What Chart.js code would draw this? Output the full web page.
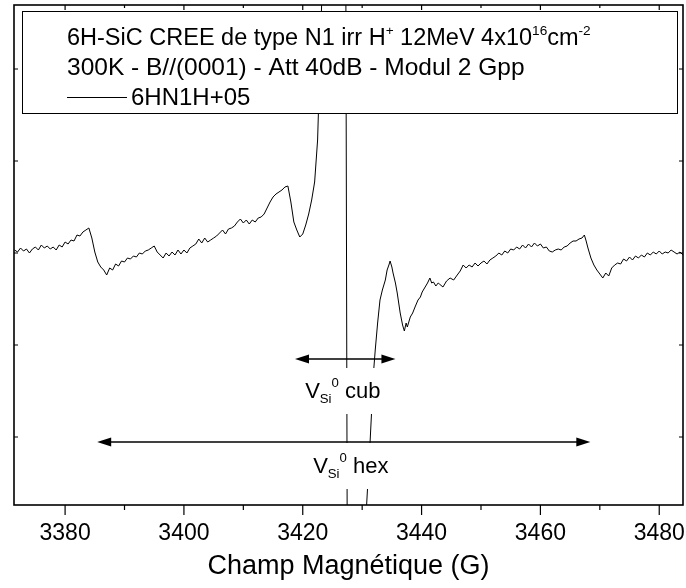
<!DOCTYPE html>
<html>
<head>
<meta charset="utf-8">
<script src="https://cdn.jsdelivr.net/npm/chart.js@4"></script>
<style>
  body { margin: 0; background: #fff; }
  #wrap { width: 686px; height: 588px; }
</style>
</head>
<body>
<div id="wrap"><canvas id="canvas_epr" width="686" height="588"></canvas></div>
<script>
// EPR spectrum 6HN1H+05 (field in G, signal in a.u.)
var field = [
  3371.5, 3372, 3372.5, 3373, 3373.5, 3374, 3374.5, 3375, 3375.5, 3376, 3376.5, 3377, 3377.5, 3378, 3378.5, 3379, 3379.5,
  3380, 3380.5, 3381, 3381.5, 3382, 3382.5, 3383, 3383.5, 3384, 3384.5, 3385, 3385.5, 3386, 3386.5, 3387, 3387.5,
  3388, 3388.5, 3389, 3389.5, 3390, 3390.5, 3391, 3391.5, 3392, 3392.5, 3393, 3393.5, 3394, 3394.5, 3395, 3395.5,
  3396, 3396.5, 3397, 3397.5, 3398, 3398.5, 3399, 3399.5, 3400, 3400.5, 3401, 3401.5, 3402, 3402.5, 3403, 3403.5,
  3404, 3404.5, 3405, 3405.5, 3406, 3406.5, 3407, 3407.5, 3408, 3408.5, 3409, 3409.5, 3410, 3410.5, 3411, 3411.5,
  3412, 3412.5, 3413, 3413.5, 3414, 3414.5, 3415, 3415.5, 3416, 3416.5, 3417, 3417.5, 3418, 3418.5, 3419, 3419.5,
  3420, 3420.5, 3421, 3421.5, 3422, 3422.5, 3423, 3423.5, 3424, 3425, 3426, 3426.8, 3427.2, 3427.55,
  3428, 3428.5, 3429, 3429.5, 3430, 3430.75, 3431.35, 3431.94, 3432.2, 3432.6, 3433, 3433.4, 3433.9, 3434.2, 3434.5,
  3434.7, 3435, 3435.2, 3435.6, 3435.9, 3436.2, 3436.4, 3436.8, 3437.1, 3437.4, 3437.6, 3438.1, 3438.5, 3438.9,
  3439.4, 3439.8, 3440.1, 3440.6, 3441, 3441.4, 3441.7, 3442, 3442.4, 3442.8, 3443, 3443.6, 3444.2, 3444.8, 3445.4,
  3446, 3446.5, 3447, 3447.5, 3448, 3448.5, 3449, 3449.5, 3450, 3450.5, 3451, 3451.5, 3452, 3452.5, 3453, 3453.5,
  3454, 3454.5, 3455, 3455.5, 3456, 3456.5, 3457, 3457.5, 3458, 3458.5, 3459, 3459.5, 3460, 3460.5, 3461, 3461.5,
  3462, 3462.5, 3463, 3463.5, 3464, 3464.5, 3465, 3465.5, 3466, 3466.5, 3467, 3467.4, 3467.7, 3468, 3468.5, 3469,
  3469.5, 3470, 3470.5, 3471, 3471.5, 3472, 3472.5, 3473, 3473.5, 3474, 3474.5, 3475, 3475.5, 3476, 3476.5, 3477,
  3477.5, 3478, 3478.5, 3479, 3479.5, 3480, 3480.5, 3481, 3481.5, 3482, 3482.5, 3483, 3483.5, 3484
];
var signal = [
  3, 1, 5, 2, 4, 0, 4, 6, 3, 8, 5, 7, 4, 6, 3, 8, 6,
  11, 9, 13, 12, 18, 17, 21, 23, 25, 15, 1, -9, -14, -17, -22, -15,
  -17, -11, -13, -8, -9, -5, -6, -3, -4, 0, -1, 2, 3, 5, 7, 1,
  -2, -5, 0, -3, 1, -2, 3, -1, 3, 0, 5, 7, 9, 14, 10, 15,
  11, 13, 15, 17, 20, 23, 19, 24, 25, 27, 31, 34, 30, 33, 29, 33,
  31, 35, 36, 39, 45, 51, 56, 59, 61, 63, 66, 67, 51, 31, 23, 16,
  19, 28, 39, 53, 71, 113, 213, 313, 413, 483, 490, 460, 403, -447,
  -470, -480, -460, -400, -320, -252, -187, -117, -97, -70, -47, -37, -27, -17, -12,
  -8, -14, -20, -30, -40, -52, -60, -72, -78, -70, -74, -64, -60, -54,
  -47, -44, -39, -34, -30, -25, -30, -29, -33, -30, -31, -34, -28, -25, -27,
  -22, -18, -12, -15, -12, -14, -10, -13, -10, -8, -11, -7, -5, -3, 0, -2,
  2, 0, 4, 3, 6, 4, 8, 5, 9, 6, 10, 7, 9, 5, 6, 2,
  1, 3, 4, 3, 6, 7, 10, 12, 12, 14, 15, 18, 12, 5, -5, -12,
  -17, -21, -25, -20, -23, -15, -12, -10, -11, -6, -8, -4, -7, -3, -5, -2,
  -4, 0, -2, 1, -1, 2, -1, 1, 0, 3, 1, -1, 1, -2
];

var x_tick_values = [3380, 3400, 3420, 3440, 3460, 3480];
var x_minor_values = [3390, 3410, 3430, 3450, 3470];
var y_tick_values = [-184, -92, 0, 92, 184];

var FONT = '"Liberation Sans", Arial, sans-serif';

// legend lines, runs: s = 1 superscript
var legend_line1 = [
  { t: '6H-SiC CREE de type N1 irr H' }, { t: '+', s: 1 }, { t: ' 12MeV 4x10' },
  { t: '16', s: 1 }, { t: 'cm' }, { t: '-2', s: 1 }
];
var legend_line2 = [{ t: '300K - B//(0001) - Att 40dB - Modul 2 Gpp' }];
var legend_series = '6HN1H+05';

// arrows [from G, to G, level] and labels [start G, baseline level, kind]
var arrows = [[3418.7, 3435.6, -106], [3385.4, 3468.4, -189]];
var labels = [[3420.4, -145, 'cub'], [3421.75, -220, 'hex']];

function drawRuns(ctx, x, y, runs, size) {
  runs.forEach(function (r) {
    var fs = r.s ? size * 0.58 : size;
    var dy = r.s > 0 ? -size * 0.42 : (r.s < 0 ? size * 0.22 : 0);
    ctx.font = fs + 'px ' + FONT;
    ctx.fillText(r.t, x, y + dy);
    x += ctx.measureText(r.t).width;
  });
  return x;
}

function arrowHead(ctx, x, y, dir) {
  ctx.beginPath();
  ctx.moveTo(x, y);
  ctx.lineTo(x - dir * 14, y - 4.5);
  ctx.lineTo(x - dir * 14, y + 4.5);
  ctx.closePath();
  ctx.fill();
}

var overlayPlugin = {
  id: 'overlay',
  afterDatasetsDraw: function (chart) {
    var ctx = chart.ctx;
    var xs = chart.scales.x, ys = chart.scales.y;
    ctx.save();
    ctx.fillStyle = '#000';
    ctx.strokeStyle = '#000';
    ctx.textBaseline = 'alphabetic';

    // arrows
    arrows.forEach(function (a) {
      var x1 = xs.getPixelForValue(a[0]), x2 = xs.getPixelForValue(a[1]), y = ys.getPixelForValue(a[2]);
      ctx.lineWidth = 1.5;
      ctx.beginPath();
      ctx.moveTo(x1 + 6, y);
      ctx.lineTo(x2 - 6, y);
      ctx.stroke();
      arrowHead(ctx, x1, y, -1);
      arrowHead(ctx, x2, y, 1);
    });

    // V_Si^0 labels on white
    labels.forEach(function (l) {
      var x = xs.getPixelForValue(l[0]), y = ys.getPixelForValue(l[1]);
      ctx.font = '22px ' + FONT;
      var wV = ctx.measureText('V').width, wK = ctx.measureText(' ' + l[2]).width;
      ctx.font = (22 * 0.6) + 'px ' + FONT;
      var wS = ctx.measureText('Si').width, w0 = ctx.measureText('0').width;
      ctx.fillStyle = '#fff';
      ctx.fillRect(x - 5, y - 30, wV + wS + w0 + wK + 10, 46);
      ctx.fillStyle = '#000';
      // subscript and superscript stack after the V
      ctx.font = '22px ' + FONT;
      ctx.fillText('V', x, y);
      ctx.font = (22 * 0.6) + 'px ' + FONT;
      ctx.fillText('Si', x + wV, y + 5);
      ctx.fillText('0', x + wV + wS, y - 11);
      ctx.font = '22px ' + FONT;
      ctx.fillText(' ' + l[2], x + wV + wS + w0, y);
    });

    // legend box
    var bx = 22, by = 11, bw = 655, bh = 102;
    ctx.fillStyle = '#fff';
    ctx.fillRect(bx, by, bw, bh);
    ctx.lineWidth = 1;
    ctx.strokeRect(bx + 0.5, by + 0.5, bw, bh);
    ctx.fillStyle = '#000';
    drawRuns(ctx, 67, 45, legend_line1, 23.5);
    drawRuns(ctx, 67, 75, legend_line2, 24.5);
    ctx.lineWidth = 1;
    ctx.beginPath();
    ctx.moveTo(67, 97.5);
    ctx.lineTo(127, 97.5);
    ctx.stroke();
    ctx.font = '24px ' + FONT;
    ctx.fillText(legend_series, 131, 105);
    ctx.restore();
  },
  afterDraw: function (chart) {
    var ctx = chart.ctx, a = chart.chartArea;
    var xs = chart.scales.x, ys = chart.scales.y;
    ctx.save();
    ctx.strokeStyle = '#000';
    ctx.lineWidth = 1.6;
    ctx.strokeRect(a.left, a.top, a.right - a.left, a.bottom - a.top);
    ctx.lineWidth = 1.2;
    ctx.beginPath();
    x_tick_values.forEach(function (v) {
      var x = xs.getPixelForValue(v);
      ctx.moveTo(x, a.bottom); ctx.lineTo(x, a.bottom + 10);
      ctx.moveTo(x, a.top); ctx.lineTo(x, a.top + 5);
    });
    x_minor_values.forEach(function (v) {
      var x = xs.getPixelForValue(v);
      ctx.moveTo(x, a.bottom); ctx.lineTo(x, a.bottom + 5);
      ctx.moveTo(x, a.top); ctx.lineTo(x, a.top + 3);
    });
    y_tick_values.forEach(function (v) {
      var y = ys.getPixelForValue(v);
      ctx.moveTo(a.left, y); ctx.lineTo(a.left + 4, y);
      ctx.moveTo(a.right, y); ctx.lineTo(a.right - 4, y);
    });
    ctx.stroke();
    ctx.restore();
  }
};

function drawEpr() {
  var pts = field.map(function (g, i) { return { x: g, y: signal[i] }; });
  var ctx = document.getElementById('canvas_epr');
  new Chart(ctx, {
    type: 'line',
    data: {
      datasets: [{
        label: legend_series,
        data: pts,
        borderColor: '#000',
        borderWidth: 1,
        pointRadius: 0,
        tension: 0,
        fill: false
      }]
    },
    options: {
      responsive: false,
      animation: false,
      devicePixelRatio: 1,
      layout: { padding: { left: 14, right: 3, top: 5, bottom: 0 } },
      plugins: { legend: { display: false }, tooltip: { enabled: false } },
      scales: {
        x: {
          type: 'linear',
          min: 3371.4,
          max: 3484,
          afterBuildTicks: function (s) { s.ticks = x_tick_values.map(function (v) { return { value: v }; }); },
          afterFit: function (s) { s.height = 83; s.paddingLeft = 0; s.paddingRight = 0; },
          grid: { display: false, drawTicks: false },
          border: { display: false },
          ticks: {
            color: '#000', font: { family: FONT, size: 23 }, padding: 15, maxRotation: 0,
            callback: function (v) { return String(v); }
          },
          title: { display: true, text: 'Champ Magnétique (G)', color: '#000', font: { family: FONT, size: 27 }, padding: { top: 0, bottom: 5 } }
        },
        y: {
          type: 'linear',
          display: false,
          min: -252,
          max: 248
        }
      }
    },
    plugins: [overlayPlugin]
  });
}

drawEpr();
</script>
</body>
</html>
